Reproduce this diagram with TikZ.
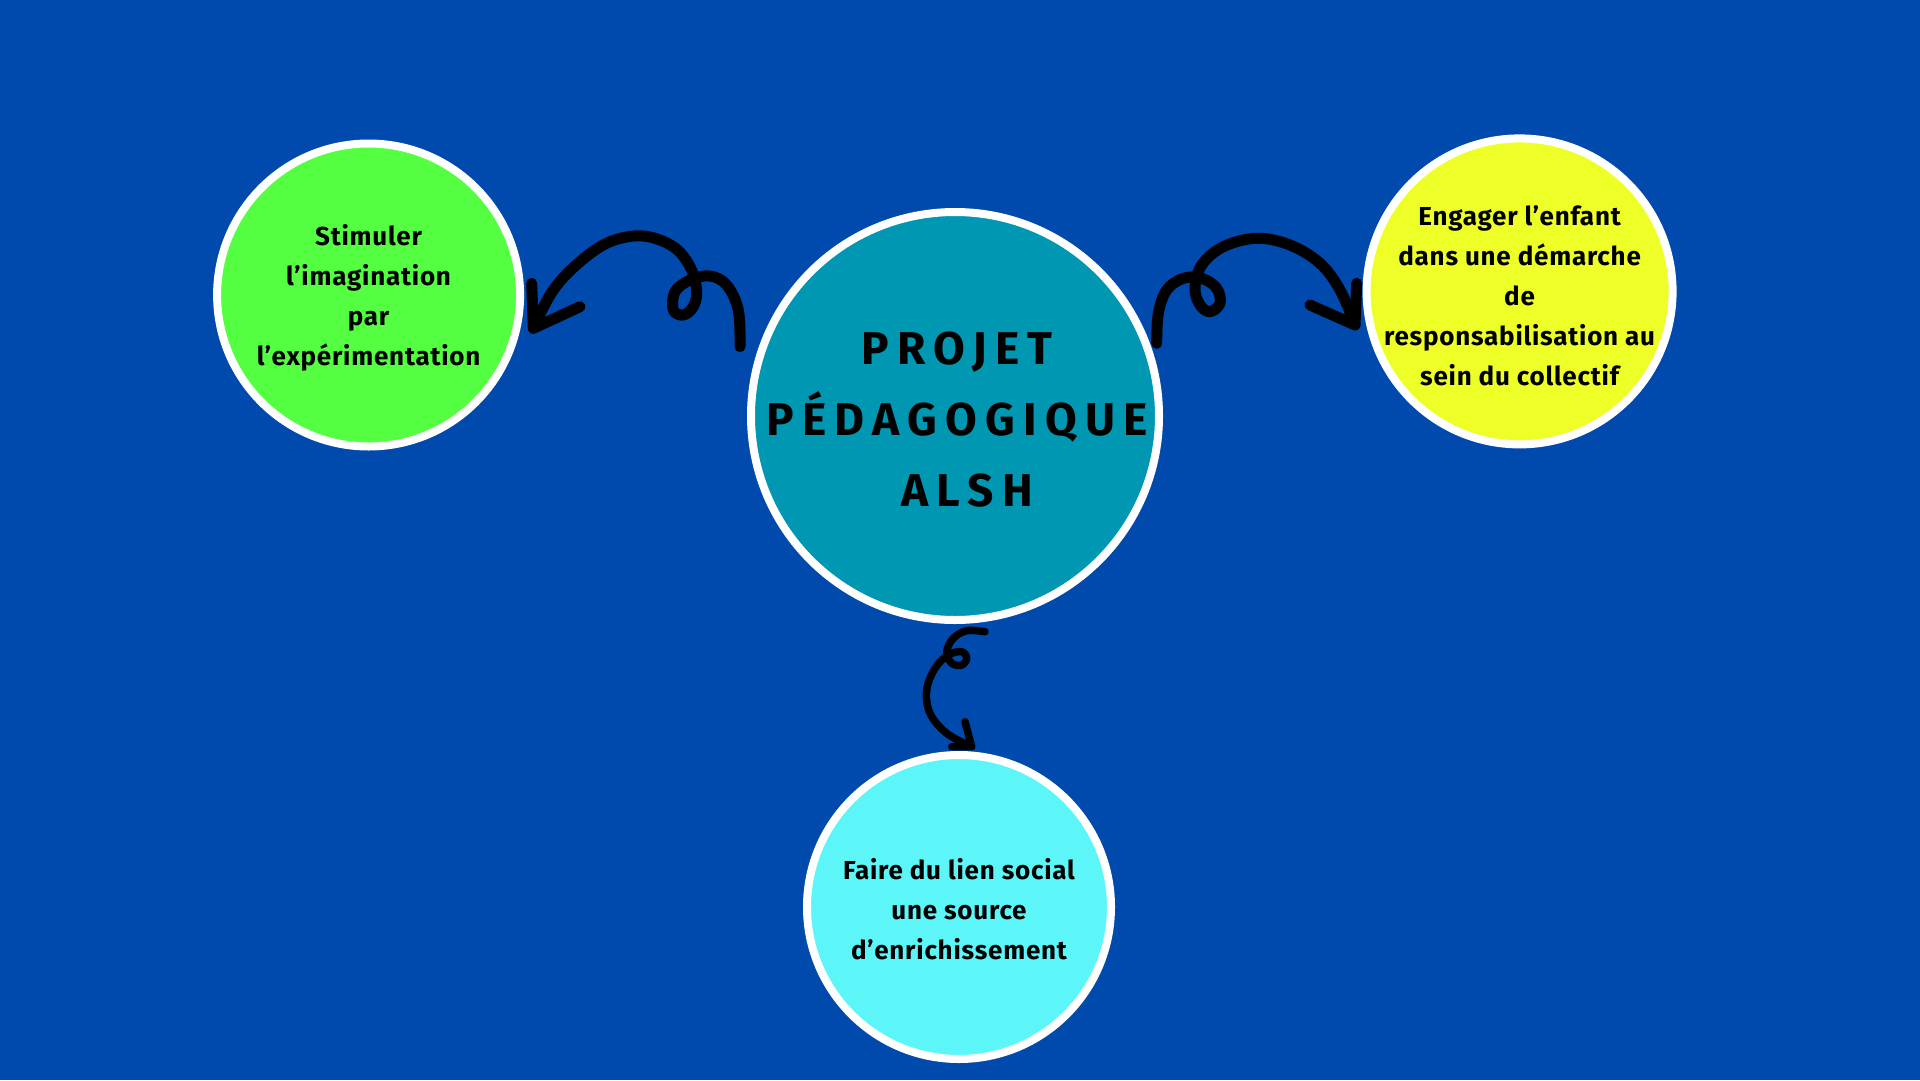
\documentclass[tikz,border=0pt]{standalone}
\usepackage{fontspec}
\newfontfamily\hand{Fira Sans}[LetterSpace=3]
\newfontfamily\bighand{Fira Sans}[LetterSpace=18]
\definecolor{bgblue}{RGB}{0,74,173}
\definecolor{teal}{RGB}{0,151,178}
\definecolor{lgreen}{RGB}{84,255,66}
\definecolor{lyellow}{RGB}{238,255,40}
\definecolor{lcyan}{RGB}{92,246,248}
\tikzset{
  bubble/.style={circle, draw=white, line width=8pt, inner sep=0pt},
  smalltxt/.style={align=center, text=black, font=\hand\bfseries\fontsize{26}{40}\selectfont},
  bigtxt/.style={align=center, text=black, font=\bighand\bfseries\fontsize{46}{71}\selectfont},
  swirl/.style={draw=black, line width=11pt, line cap=round, line join=round},
  swirlthin/.style={draw=black, line width=7.5pt, line cap=round, line join=round},
}
\begin{document}
\begin{tikzpicture}[x=1pt,y=-1pt]
\fill[bgblue] (0,0) rectangle (1920,1080);
\useasboundingbox (0,0) rectangle (1920,1080);

% circles
\node[bubble, fill=lgreen, minimum size=303pt] (green) at (368.6,295) {};
\node[bubble, fill=teal, minimum size=408pt] (center) at (955,416) {};
\node[bubble, fill=lyellow, minimum size=306pt] (yellow) at (1519.6,291.4) {};
\node[bubble, fill=lcyan, minimum size=304pt] (cyan) at (959,907) {};

% texts
\node[smalltxt] (tgreen) at (368.6,297.5) {Stimuler\\l’imagination\\par\\l’expérimentation};
\node[smalltxt] (tyellow) at (1519.6,295.5) {Engager l’enfant\\dans une démarche\\de\\responsabilisation au\\sein du collectif};
\node[smalltxt] (tcyan) at (959,909.5) {Faire du lien social\\une source\\d’enrichissement};
\node[bigtxt] (tcenter) at (957,420) {PROJET\\PÉDAGOGIQUE\\\hspace*{20pt}ALSH};

% left swirl arrow
\coordinate (lTail) at (740,346.7);
\coordinate (lTip) at (533.3,328.3);
\draw[swirl] plot[smooth, tension=0.6] coordinates {(lTail) (738.3,310) (726.7,285) (710,276) (690,280) (675,291.7) (673.3,310) (683.3,315) (693.3,306.7) (696.7,290) (690,266.7) (673.3,246.7) (643.3,236) (610,241.7) (580,261.7) (553.3,290) (lTip)};
\draw[swirl] (531.7,283.3) -- (lTip) -- (580,306.7);

% right swirl arrow
\coordinate (rTail) at (1156.7,343.3);
\coordinate (rTip) at (1355,325);
\draw[swirl] plot[smooth, tension=0.6] coordinates {(rTail) (1158.3,313.3) (1166.7,290) (1183.3,278.3) (1201.7,278.3) (1216.7,288.3) (1220,303.3) (1210,311.7) (1200,305) (1195,288.3) (1201.7,265) (1223.3,246.7) (1256.7,238.3) (1290,245) (1320,263.3) (1340,290) (rTip)};
\draw[swirl] (1356.7,283.3) -- (rTip) -- (1310,305);

% bottom swirl arrow
\coordinate (bTail) at (985,631.7);
\coordinate (bTip) at (971.7,746.7);
\draw[swirlthin] plot[smooth, tension=0.6] coordinates {(bTail) (966.7,630.7) (953.3,638.3) (946.7,651.7) (951.7,663.3) (961.7,665) (966.7,658.3) (961.7,651.7) (948.3,655) (935,668.3) (926.7,690) (930,713.3) (946.7,733.3) (bTip)};
\draw[swirlthin] (965,721.7) -- (bTip) -- (951.7,746.7);
\end{tikzpicture}
\end{document}
